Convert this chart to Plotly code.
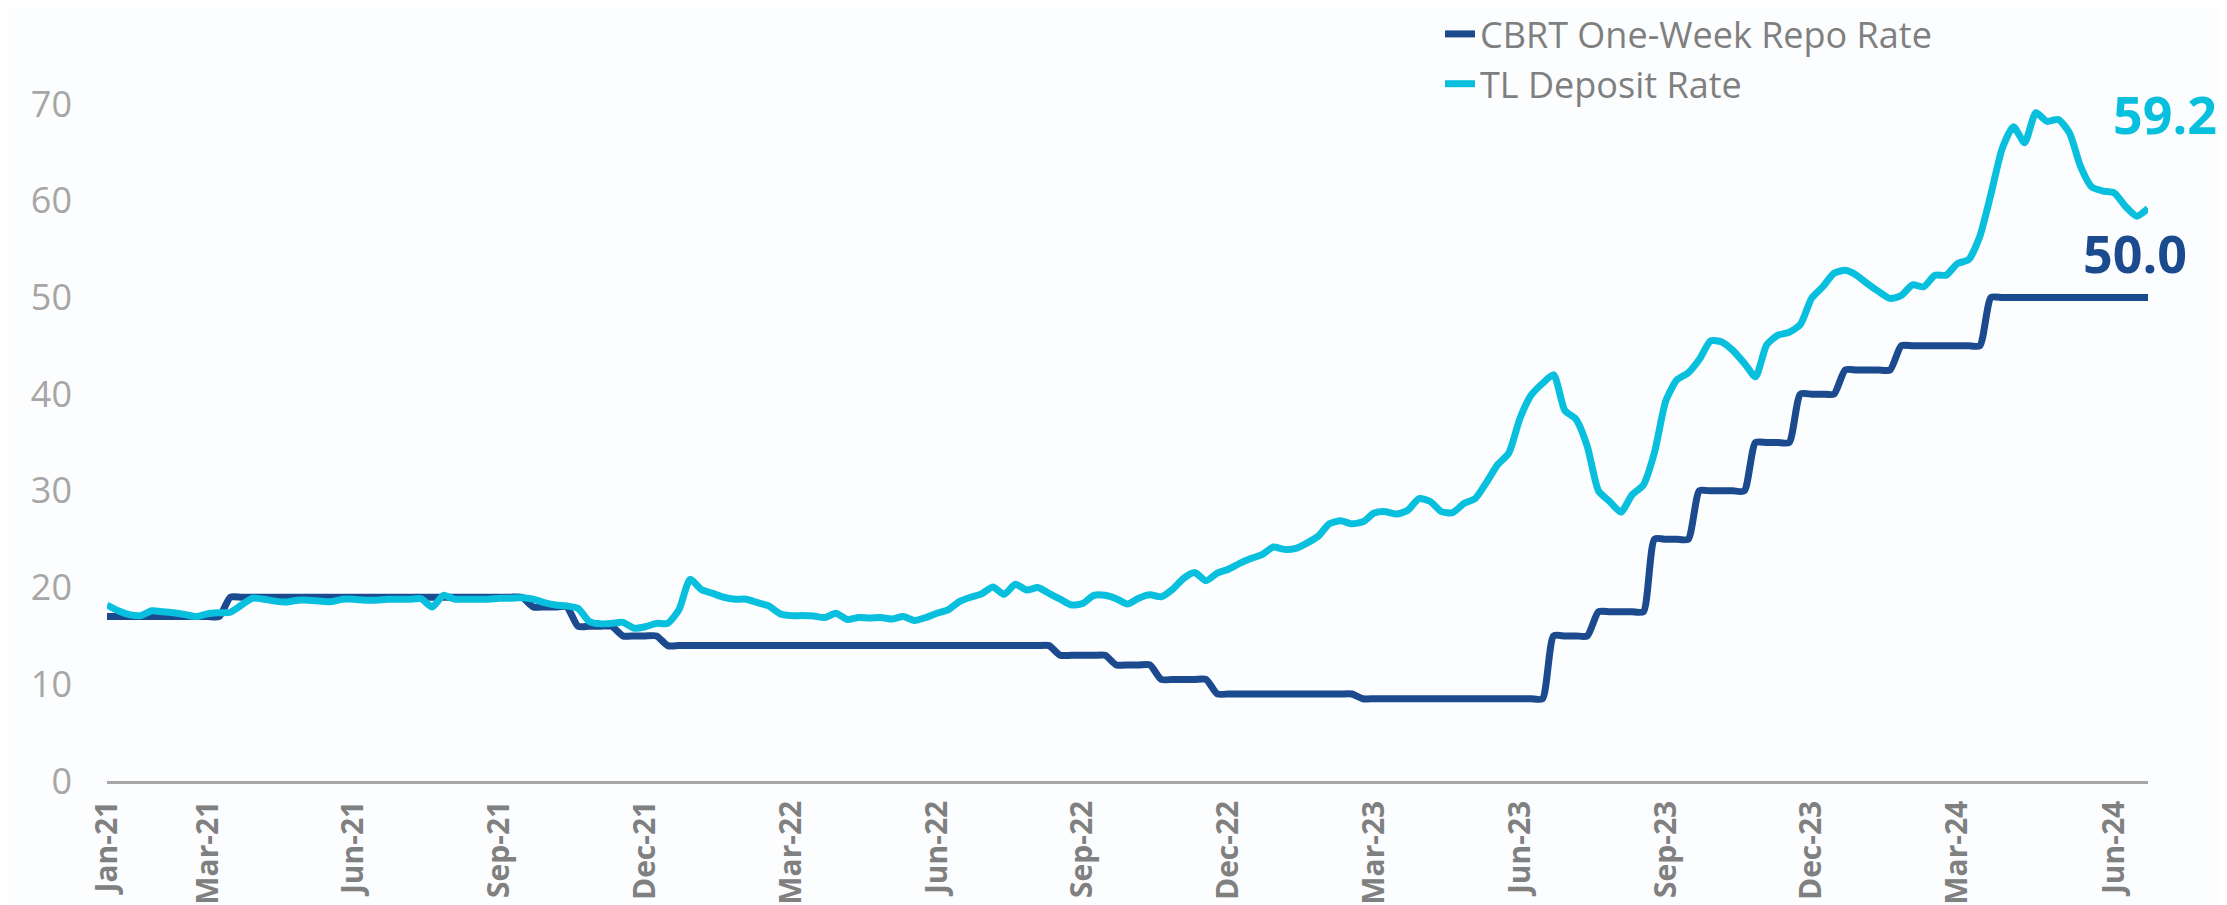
import pandas as pd
import plotly.graph_objects as go

# Weekly observations (Fridays) from 1 Jan 2021 to 28 Jun 2024
start_date = "2021-01-01"
n_weeks = 183
dates = pd.date_range(start_date, periods=n_weeks, freq="7D")

series_names = ["CBRT One-Week Repo Rate", "TL Deposit Rate"]

repo_rate = [
    17, 17, 17, 17, 17, 17, 17, 17, 17, 17, 17,
    19, 19, 19, 19, 19, 19, 19, 19, 19, 19, 19, 19, 19, 19, 19, 19, 19, 19, 19,
    19, 19, 19, 19, 19, 19, 19, 19,
    18, 18, 18, 18,
    16, 16, 16, 16,
    15, 15, 15, 15,
    14, 14, 14, 14, 14, 14, 14, 14, 14, 14, 14, 14, 14, 14, 14, 14, 14, 14, 14,
    14, 14, 14, 14, 14, 14, 14, 14, 14, 14, 14, 14, 14, 14, 14, 14,
    13, 13, 13, 13, 13,
    12, 12, 12, 12,
    10.5, 10.5, 10.5, 10.5, 10.5,
    9, 9, 9, 9, 9, 9, 9, 9, 9, 9, 9, 9, 9,
    8.5, 8.5, 8.5, 8.5, 8.5, 8.5, 8.5, 8.5, 8.5, 8.5, 8.5, 8.5, 8.5, 8.5, 8.5, 8.5, 8.5,
    15, 15, 15, 15,
    17.5, 17.5, 17.5, 17.5, 17.5,
    25, 25, 25, 25,
    30, 30, 30, 30, 30,
    35, 35, 35, 35,
    40, 40, 40, 40,
    42.5, 42.5, 42.5, 42.5, 42.5,
    45, 45, 45, 45, 45, 45, 45, 45,
    50, 50, 50, 50, 50, 50, 50, 50, 50, 50, 50, 50, 50, 50, 50,
]

deposit_rate = [
    18.2, 17.6, 17.2, 17.1, 17.6, 17.5, 17.4, 17.2, 17.0, 17.3,
    17.4, 17.45, 18.2, 18.9, 18.8, 18.6, 18.5, 18.7, 18.7, 18.6,
    18.55, 18.8, 18.8, 18.7, 18.7, 18.8, 18.8, 18.8, 18.85, 18.0,
    19.2, 18.8, 18.8, 18.8, 18.8, 18.9, 18.9, 18.95, 18.8, 18.45,
    18.2, 18.1, 17.85, 16.5, 16.25, 16.3, 16.4, 15.8, 15.95, 16.3,
    16.3, 17.7, 20.85, 19.8, 19.4, 19.0, 18.8, 18.8, 18.45, 18.1,
    17.3, 17.1, 17.1, 17.05, 16.9, 17.35, 16.7, 16.9, 16.85, 16.9,
    16.75, 17.0, 16.6, 16.9, 17.35, 17.7, 18.55, 19.0, 19.35, 20.05,
    19.3, 20.35, 19.75, 20.0, 19.4, 18.8, 18.2, 18.35, 19.2, 19.2,
    18.85, 18.3, 18.9, 19.25, 19.05, 19.8, 20.95, 21.55, 20.7, 21.5,
    21.9, 22.5, 23.0, 23.4, 24.2, 23.95, 24.05, 24.6, 25.3, 26.6,
    26.9, 26.6, 26.8, 27.7, 27.85, 27.6, 28.0, 29.2, 28.9, 27.85,
    27.75, 28.7, 29.2, 30.85, 32.7, 33.9, 37.5, 39.9, 41.1, 42.0,
    38.3, 37.4, 34.6, 30.0, 28.9, 27.8, 29.6, 30.6, 34.0, 39.3,
    41.5, 42.2, 43.6, 45.5, 45.4, 44.5, 43.2, 41.8, 45.1, 46.1,
    46.4, 47.2, 49.9, 51.1, 52.5, 52.8, 52.3, 51.4, 50.6, 49.9,
    50.2, 51.3, 51.1, 52.3, 52.3, 53.5, 53.9, 56.3, 60.7, 65.4,
    67.65, 66.0, 69.1, 68.2, 68.4, 67.0, 63.5, 61.4, 61.0, 60.8,
    59.4, 58.4, 59.2,
]

tick_months = ["2021-01", "2021-03", "2021-06", "2021-09", "2021-12",
               "2022-03", "2022-06", "2022-09", "2022-12",
               "2023-03", "2023-06", "2023-09", "2023-12",
               "2024-03", "2024-06"]

y_ticks = [0, 10, 20, 30, 40, 50, 60, 70]

REPO_COLOR = "#1B4A8E"
DEP_COLOR = "#08C0DD"
BG = "#FCFDFE"

# tick at the first weekly observation of each labelled month
date_series = pd.Series(dates)
tickvals = []
for m in tick_months:
    sel = date_series[date_series.dt.strftime("%Y-%m") == m]
    tickvals.append(sel.iloc[0])

# page body has an 8px default margin, so the figure is sized to fit the window
W, H = 2219, 897
L, R, T, B = 99, 79, 96, 124
plot_w = W - L - R
plot_h = H - T - B

fig = go.Figure()
fig.add_trace(go.Scatter(
    x=dates, y=repo_rate, name=series_names[0], mode="lines",
    line=dict(color=REPO_COLOR, width=7, shape="spline", smoothing=0.6),
    legendgroup="a",
))
fig.add_trace(go.Scatter(
    x=dates, y=deposit_rate, name=series_names[1], mode="lines",
    line=dict(color=DEP_COLOR, width=7, shape="spline", smoothing=0.6),
    legendgroup="b",
))

fig.add_annotation(
    x=dates[-1], y=deposit_rate[-1], xref="x", yref="y",
    text=f"<b>{deposit_rate[-1]:.1f}</b>", showarrow=False,
    xshift=17, yshift=95,
    font=dict(family="Open Sans", size=52, color=DEP_COLOR),
)
fig.add_annotation(
    x=dates[-1], y=repo_rate[-1], xref="x", yref="y",
    text=f"<b>{repo_rate[-1]:.1f}</b>", showarrow=False,
    xshift=-13, yshift=45,
    font=dict(family="Open Sans", size=52, color=REPO_COLOR),
)

fig.update_layout(
    width=W, height=H,
    margin=dict(l=L, r=R, t=T, b=B, autoexpand=False),
    paper_bgcolor=BG, plot_bgcolor=BG,
    showlegend=True,
    legend=dict(
        xref="paper", yref="paper",
        x=(1432 - L) / plot_w, y=(plot_h + T + 4) / plot_h,
        xanchor="left", yanchor="top",
        font=dict(family="Open Sans", size=36, color="#7F7F7F"),
        bgcolor="rgba(0,0,0,0)", tracegroupgap=0,
        itemwidth=30,
    ),
    xaxis=dict(
        type="date", range=[dates[0], dates[-1]],
        tickvals=tickvals, tickformat="%b-%y", tickangle=-90,
        showgrid=False, zeroline=False,
        showline=True, linecolor="#A6A6A6", linewidth=2.5,
        ticks="", ticklabelstandoff=5,
        tickfont=dict(family="Open Sans", size=30, color="#808080", weight="bold"),
    ),
    yaxis=dict(
        range=[0, 70], tickvals=y_ticks,
        showgrid=False, zeroline=False, showline=False,
        ticks="", ticklabelstandoff=34,
        tickfont=dict(family="Open Sans", size=36, color="#A6A6A6"),
    ),
)

fig.write_html("out.html")
